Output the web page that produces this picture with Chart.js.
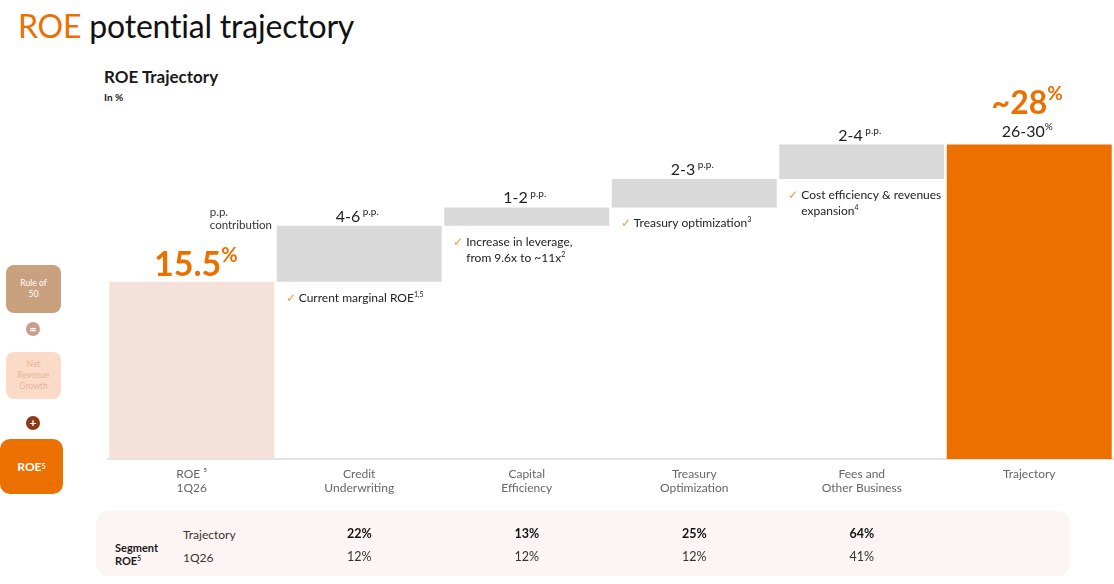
<!DOCTYPE html>
<html>
<head>
<meta charset="utf-8">
<script src="https://cdn.jsdelivr.net/npm/chart.js@4.4.0/dist/chart.umd.min.js"></script>
<style>
  body { margin: 0; width: 1114px; height: 584px; position: relative; background: #fff; overflow: hidden;
         font-family: Lato, "Noto Sans", sans-serif; color: #1a1a1a; }
  .abs { position: absolute; }
  #title { left: 18px; top: 6px; font-size: 32px; font-weight: 400; letter-spacing: -0.2px; color: #111; }
  #title span { color: #ec7000; }
  #subtitle { left: 104px; top: 66px; font-size: 17px; font-weight: 700; }
  #unit { left: 104px; top: 91px; font-size: 10px; font-weight: 700; }
  .box { display: flex; align-items: center; justify-content: center; text-align: center; border-radius: 8px; }
  #rule { left: 6px; top: 265px; width: 55px; height: 48px; background: #c9a17f; color: #fff; font-size: 8.5px; line-height: 11px; }
  #nrg { left: 6px; top: 352px; width: 55px; height: 47px; background: #fcdac8; color: #e6b59b; font-size: 8.5px; line-height: 11px; }
  #roe { left: 0; top: 439px; width: 63px; height: 55px; background: #ec7000; color: #fff; font-size: 12px; font-weight: 700; border-radius: 10px; }
  .dot { width: 14px; height: 14px; border-radius: 7px; color: #fff; font-size: 12px; line-height: 14px; text-align: center; font-weight: 700; }
  #eq { left: 26px; top: 322px; background: #c99e8d; }
  #plus { left: 26px; top: 416px; background: #8a3a18; }
  sup { font-size: 0.6em; vertical-align: 0.55em; line-height: 0; }
  #table { left: 96px; top: 511px; width: 974px; height: 65px; background: #fdf5f4; border-radius: 12px; }
  #seg { left: 115px; top: 541px; font-size: 11px; font-weight: 700; line-height: 13px; }
  .rowlab { left: 183px; font-size: 12px; color: #333; }
  #chart { position: absolute; left: 0; top: 0; }
</style>
</head>
<body>
<div id="title" class="abs"><span>ROE</span> potential trajectory</div>
<div id="subtitle" class="abs">ROE Trajectory</div>
<div id="unit" class="abs">In %</div>

<div id="rule" class="abs box">Rule of<br>50</div>
<div id="eq" class="abs dot">=</div>
<div id="nrg" class="abs box">Net<br>Revenue<br>Growth</div>
<div id="plus" class="abs dot">+</div>
<div id="roe" class="abs box">ROE<sup>5</sup></div>

<div id="table" class="abs"></div>
<div id="seg" class="abs">Segment<br>ROE<sup>5</sup></div>
<div class="abs rowlab" style="top:527px">Trajectory</div>
<div class="abs rowlab" style="top:550px">1Q26</div>

<canvas id="chart" width="1114" height="584"></canvas>

<script>
// waterfall steps (ROE, in %)
const categories = [['ROE \u2075', '1Q26'], ['Credit', 'Underwriting'], ['Capital', 'Efficiency'],
                    ['Treasury', 'Optimization'], ['Fees and', 'Other Business'], ['Trajectory']];
const barStart = [0, 15.5, 20.4, 22.0, 24.5, 0];
const barEnd = [15.5, 20.4, 22.0, 24.5, 27.5, 27.5];
const stepLabels = ['15.5', '4-6', '1-2', '2-3', '2-4', '~28'];
const trajectoryRange = '26-30';
const driverNotes = [
  null,
  [[['Current marginal ROE', ''], ['1,5', 'sup']]],
  [[['Increase in leverage,', '']], [['from 9.6x to ~11x', ''], ['2', 'sup']]],
  [[['Treasury optimization', ''], ['3', 'sup']]],
  [[['Cost efficiency & revenues', '']], [['expansion', ''], ['4', 'sup']]],
  null
];
const segTrajectory = [null, '22%', '13%', '25%', '64%', null];
const seg1Q26 = [null, '12%', '12%', '12%', '41%', null];

const ORANGE = '#ec7000';
const barColors = ['#f4e2da', '#d9d9d9', '#d9d9d9', '#d9d9d9', '#d9d9d9', ORANGE];
const FONT = 'Lato, "Noto Sans", sans-serif';

// draws a run of [text, style] parts; style '' = normal, 'sup' = superscript
function drawParts(ctx, parts, x, y, size, weight, color, align) {
  const fontFor = (p) => (p[1] === 'sup' ? weight + ' ' + Math.round(size * 0.6) + 'px ' + FONT : weight + ' ' + size + 'px ' + FONT);
  let total = 0;
  parts.forEach(p => { ctx.font = fontFor(p); total += ctx.measureText(p[0]).width; });
  let cx = align === 'center' ? x - total / 2 : x;
  ctx.fillStyle = color;
  ctx.textAlign = 'left';
  ctx.textBaseline = 'alphabetic';
  parts.forEach(p => {
    ctx.font = fontFor(p);
    ctx.fillText(p[0], cx, p[1] === 'sup' ? y - size * 0.42 : y);
    cx += ctx.measureText(p[0]).width;
  });
}

const labelsPlugin = {
  id: 'waterfallLabels',
  afterDatasetsDraw(chart) {
    const ctx = chart.ctx;
    const bars = chart.getDatasetMeta(0).data;
    ctx.save();
    bars.forEach((bar, i) => {
      const left = bar.x - bar.width / 2;
      const top = Math.min(bar.y, bar.base);
      const bottom = Math.max(bar.y, bar.base);
      if (i === 0) {
        drawParts(ctx, [[stepLabels[i], ''], ['%', 'sup']], bar.x + 4, top - 6, 34, '700', ORANGE, 'center');
        ctx.font = '400 11.5px ' + FONT;
        ctx.fillStyle = '#333';
        ctx.fillText('p.p.', bar.x + 18, top - 66);
        ctx.fillText('contribution', bar.x + 18, top - 53);
      } else if (i === bars.length - 1) {
        drawParts(ctx, [[stepLabels[i], ''], ['%', 'sup']], bar.x - 2, top - 31, 32, '700', ORANGE, 'center');
        drawParts(ctx, [[trajectoryRange, ''], ['%', 'sup']], bar.x - 2, top - 8, 16, '400', '#222', 'center');
      } else {
        drawParts(ctx, [[stepLabels[i], ''], [' p.p.', 'sup']], bar.x - 2, top - 4, 16, '400', '#222', 'center');
        const note = driverNotes[i];
        if (note) {
          note.forEach((line, k) => {
            const ly = bottom + 20 + k * 16;
            if (k === 0) {
              ctx.font = '400 12px ' + FONT;
              ctx.fillStyle = '#f29a4a';
              ctx.fillText('\u2713', left + 9, ly);
            }
            drawParts(ctx, line, left + 22, ly, 12, '400', '#222', 'left');
          });
        }
        // segment ROE table values under each business column
        ctx.textAlign = 'center';
        ctx.fillStyle = '#111';
        ctx.font = '700 12.5px ' + FONT;
        if (segTrajectory[i]) ctx.fillText(segTrajectory[i], bar.x, 538);
        ctx.font = '400 12.5px ' + FONT;
        ctx.fillStyle = '#333';
        if (seg1Q26[i]) ctx.fillText(seg1Q26[i], bar.x, 561);
      }
    });
    ctx.restore();
  }
};

new Chart(document.getElementById('chart'), {
  type: 'bar',
  data: {
    labels: categories,
    datasets: [{
      data: barStart.map((s, i) => [s, barEnd[i]]),
      backgroundColor: barColors,
      borderWidth: 0,
      barPercentage: 0.985,
      categoryPercentage: 1
    }]
  },
  options: {
    responsive: false,
    animation: false,
    layout: { padding: { left: 108, right: 1, top: 116, bottom: 65 } },
    plugins: { legend: { display: false }, tooltip: { enabled: false } },
    scales: {
      x: {
        grid: { display: false },
        border: { display: true, color: '#e2e2e2', width: 2 },
        ticks: { color: '#666', font: { family: FONT, size: 12 }, padding: 0, maxRotation: 0 },
        afterFit(scale) { scale.height = 60; }
      },
      y: { display: false, min: 0, max: 30 }
    }
  },
  plugins: [labelsPlugin]
});
</script>
</body>
</html>
